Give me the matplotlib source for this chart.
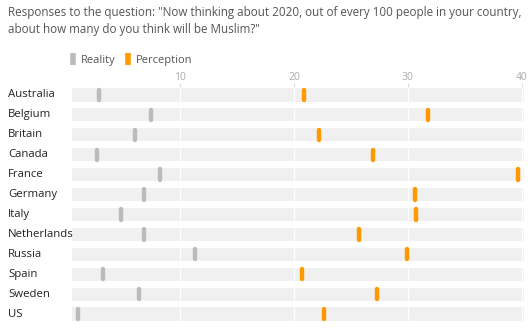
import matplotlib.pyplot as plt
from matplotlib.lines import Line2D
from matplotlib.transforms import blended_transform_factory

plt.rcParams['font.family'] = ['Open Sans', 'DejaVu Sans']

countries = ["Australia", "Belgium", "Britain", "Canada", "France", "Germany",
             "Italy", "Netherlands", "Russia", "Spain", "Sweden", "US"]
reality = [2.9, 7.4, 6.0, 2.7, 8.2, 6.8, 4.8, 6.8, 11.3, 3.2, 6.4, 1.0]
perception = [20.9, 31.8, 22.2, 26.9, 39.7, 30.6, 30.7, 25.7, 29.9, 20.7, 27.3, 22.6]
ticks = [10, 20, 30, 40]

grey = "#bbbbbb"
orange = "#ff9900"
band = "#f0f0f0"

W, H = 528, 329
fig = plt.figure(figsize=(W / 100, H / 100), dpi=100)

# axes area in pixels
left, right, top, bottom = 72, 524, 87, 322
ax = fig.add_axes([left / W, 1 - bottom / H, (right - left) / W, (bottom - top) / H])

xmin, xmax = 0.5, 40.2
ax.set_xlim(xmin, xmax)
ax.set_ylim(len(countries) - 0.6, -0.4)

for i in range(len(countries)):
    ax.axhspan(i - 0.33, i + 0.33, color=band, lw=0, zorder=0)

for t in ticks:
    ax.axvline(t, color="white", lw=1, zorder=1)

ys = list(range(len(countries)))
lr = ax.vlines(reality, [y - 0.26 for y in ys], [y + 0.26 for y in ys],
               color=grey, lw=3.2, zorder=3)
lr.set_capstyle("round")
lp = ax.vlines(perception, [y - 0.26 for y in ys], [y + 0.26 for y in ys],
               color=orange, lw=3.2, zorder=4)
lp.set_capstyle("round")

for s in ax.spines.values():
    s.set_visible(False)

ax.xaxis.tick_top()
ax.set_xticks(ticks)
ax.set_xticklabels([str(t) for t in ticks])
ax.tick_params(axis="x", length=3, width=0.8, color="#dddddd", labelcolor="#aaaaaa",
               labelsize=7.5, pad=0)
ax.set_yticks([])

tr = blended_transform_factory(fig.transFigure, ax.transData)
for y, c in zip(ys, countries):
    ax.text(8 / W, y, c, transform=tr, fontsize=8.2, color="#222222",
            va="center", ha="left")

fig.text(8 / W, 1 - 6 / H,
         "Responses to the question: \"Now thinking about 2020, out of every 100 people in your country,\n"
         "about how many do you think will be Muslim?\"",
         fontsize=8.35, color="#555555", va="top", ha="left", linespacing=1.45)

handles = [Line2D([], [], color=grey, lw=0, marker="|", markersize=8, markeredgewidth=4),
           Line2D([], [], color=orange, lw=0, marker="|", markersize=8, markeredgewidth=4)]
fig.legend(handles, ["Reality", "Perception"], loc="center left",
           bbox_to_anchor=(70 / W, 1 - 60 / H), ncol=2, frameon=False,
           fontsize=8, handlelength=0.6, handletextpad=0.4, columnspacing=0.8,
           labelcolor="#555555", borderaxespad=0, borderpad=0)

fig.savefig("out.png", dpi=100)
